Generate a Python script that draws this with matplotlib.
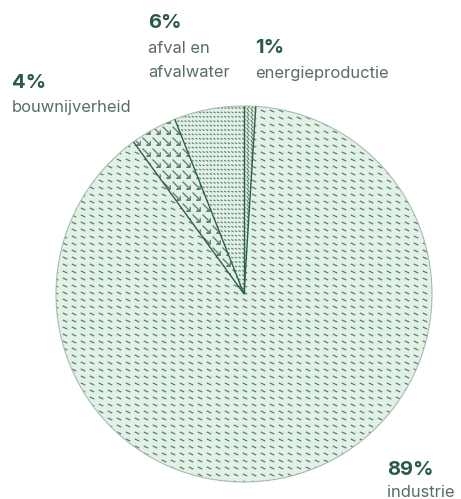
import numpy as np
import matplotlib
matplotlib.use("Agg")
import matplotlib.pyplot as plt
from matplotlib.collections import LineCollection

categories = ["energieproductie", "industrie", "bouwnijverheid", "afval en\nafvalwater"]
values = [1, 89, 4, 6]
pct_labels = ["1%", "89%", "4%", "6%"]

FILL = "#e2f1e6"
EDGE = "#2f5f48"
HATCH = "#5d7d6c"
PCT_COL = "#2b5a44"
LAB_COL = "#586d62"

W, H = 461, 499
fig = plt.figure(figsize=(W / 100, H / 100), dpi=100)
ax = fig.add_axes([0, 0, 1, 1])

cx, cy, R = 244, 205, 188
wedges, _ = ax.pie(values, startangle=90, counterclock=False, center=(cx, cy),
                   radius=R, colors=[FILL] * 4,
                   wedgeprops=dict(edgecolor="none", linewidth=0), frame=True)
ax.set_xlim(0, W)
ax.set_ylim(0, H)
ax.set_aspect("equal")
ax.axis("off")
for w in wedges:
    w.set_zorder(1)


def dash_grid(dx, dy, length, angle_deg, offset_rows=0.0):
    a = np.deg2rad(angle_deg)
    ux, uy = np.cos(a) * length / 2, np.sin(a) * length / 2
    segs = []
    ys = np.arange(cy - R - dy, cy + R + dy, dy)
    for i, y in enumerate(ys):
        off = (i % 2) * dx * offset_rows
        for x in np.arange(cx - R - dx + off, cx + R + dx, dx):
            segs.append([(x - ux, y - uy), (x + ux, y + uy)])
    return segs


# industrie: slanted short dashes
lc = LineCollection(dash_grid(9, 7, 5, -25), colors=HATCH, linewidths=0.9, zorder=2)
ax.add_collection(lc)
lc.set_clip_path(wedges[1])

# afval: dense rows of tiny dashes
lc2 = LineCollection(dash_grid(3.6, 4.4, 2.4, -30), colors=HATCH, linewidths=0.8, zorder=2)
ax.add_collection(lc2)
lc2.set_clip_path(wedges[3])

# energie: diagonal hatch
lc3 = LineCollection(dash_grid(4, 4, 5, -60), colors=HATCH, linewidths=0.8, zorder=2)
ax.add_collection(lc3)
lc3.set_clip_path(wedges[0])

# bouwnijverheid: arrows
gx, gy = np.meshgrid(np.arange(cx - R, cx + R, 10), np.arange(cy - R, cy + R, 11))
sc = ax.scatter(gx.ravel(), gy.ravel(), marker=r"$\searrow$", s=40, c=HATCH,
                linewidths=0, zorder=2)
sc.set_clip_path(wedges[2])

# light outer outline
outline = plt.Circle((cx, cy), R, fill=False, edgecolor="#a9bcb1", linewidth=0.8, zorder=3)
ax.add_patch(outline)
# dark radial boundaries
rad_segs = []
for w in wedges:
    t = np.deg2rad(w.theta1)
    rad_segs.append([(cx, cy), (cx + R * np.cos(t), cy + R * np.sin(t))])
ax.add_collection(LineCollection(rad_segs, colors=EDGE, linewidths=1.0, zorder=4))

fam = ["Inter", "DejaVu Sans"]
# (x, pct baseline, first label baseline) in pixel coordinates from top
label_pos = {0: (255, 53, 78), 1: (387, 475, 497), 2: (12, 88, 112), 3: (148, 28, 53)}
for i, (cat, pct) in enumerate(zip(categories, pct_labels)):
    x, yp, yl = label_pos[i]
    ax.text(x, H - yp, pct, fontsize=14.5, fontweight="bold", color=PCT_COL,
            family=fam, ha="left", va="baseline")
    for j, line in enumerate(cat.split("\n")):
        ax.text(x, H - yl - 24 * j, line, fontsize=11.9, color=LAB_COL, family=fam,
                ha="left", va="baseline")

fig.savefig("out.png", dpi=100)
